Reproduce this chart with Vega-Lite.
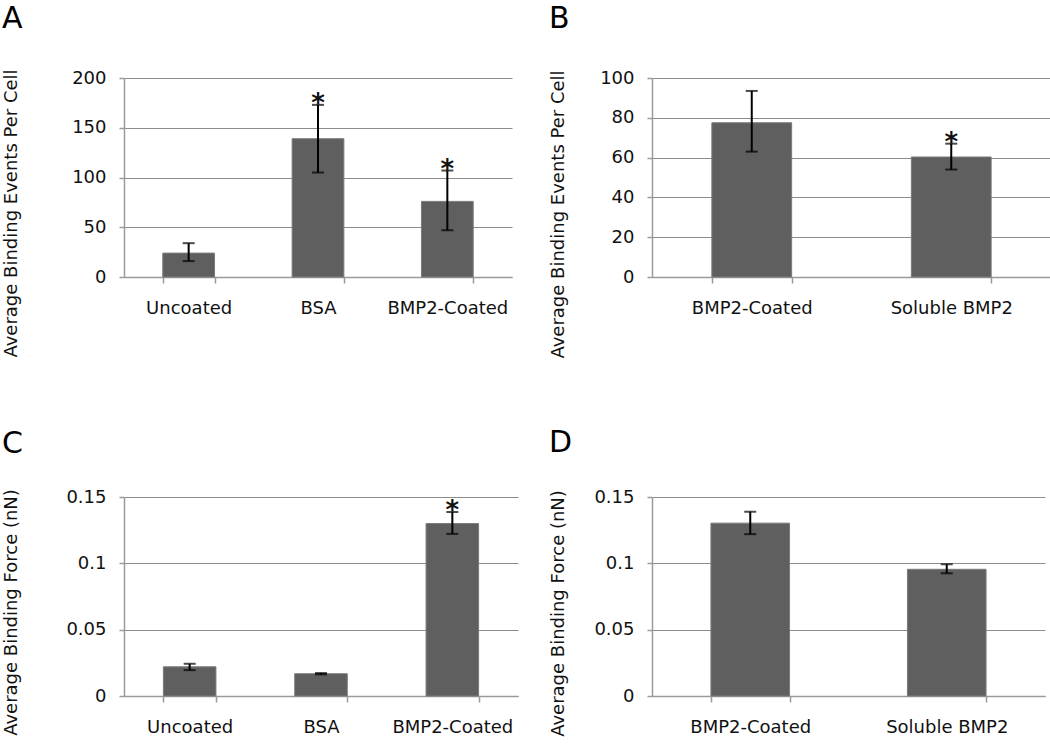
{
  "$schema": "https://vega.github.io/schema/vega-lite/v6.json",
  "background": "white",
  "padding": {"left": 1, "top": 3, "right": 0, "bottom": 0},
  "datasets": {
    "bars": [
      {"panel": "A", "cat": "Uncoated", "value": 24, "lo": 16, "hi": 34, "sig": ""},
      {"panel": "A", "cat": "BSA", "value": 139, "lo": 105, "hi": 173, "sig": "*"},
      {"panel": "A", "cat": "BMP2-Coated", "value": 76, "lo": 47, "hi": 107, "sig": "*"},
      {"panel": "B", "cat": "BMP2-Coated", "value": 77.5, "lo": 63, "hi": 93.5, "sig": ""},
      {"panel": "B", "cat": "Soluble BMP2", "value": 60.3, "lo": 54, "hi": 67, "sig": "*"},
      {"panel": "C", "cat": "Uncoated", "value": 0.022, "lo": 0.0195, "hi": 0.0243, "sig": ""},
      {"panel": "C", "cat": "BSA", "value": 0.0168, "lo": 0.0163, "hi": 0.0173, "sig": ""},
      {"panel": "C", "cat": "BMP2-Coated", "value": 0.130, "lo": 0.1222, "hi": 0.1387, "sig": "*"},
      {"panel": "D", "cat": "BMP2-Coated", "value": 0.1303, "lo": 0.122, "hi": 0.1389, "sig": ""},
      {"panel": "D", "cat": "Soluble BMP2", "value": 0.0955, "lo": 0.0925, "hi": 0.0993, "sig": ""}
    ]
  },
  "data": {"name": "bars"},
  "config": {
    "font": "DejaVu Sans",
    "view": {"stroke": null},
    "axis": {
      "labelFont": "DejaVu Sans",
      "titleFont": "DejaVu Sans",
      "labelFontSize": 18,
      "labelColor": "#111111",
      "titleFontSize": 18,
      "titleFontWeight": "normal",
      "titleColor": "#111111",
      "domainColor": "#9a9a9a",
      "domainWidth": 1.5,
      "tickColor": "#9a9a9a",
      "tickWidth": 1.5,
      "gridColor": "#8c8c8c",
      "gridWidth": 1.2
    },
    "axisX": {"grid": false, "tickSize": 6, "labelPadding": 16, "labelAngle": 0, "tickBand": "extent", "title": null},
    "axisY": {"grid": true, "tickSize": 5, "labelPadding": 13},
    "title": {"fontSize": 30, "fontWeight": "normal", "font": "DejaVu Sans", "color": "#000000", "anchor": "start", "frame": "bounds"}
  },
  "columns": 2,
  "align": {"row": "all", "column": "none"},
  "spacing": {"row": 69, "column": 30},
  "concat": [
    {
      "width": 388, "height": 199,
      "title": {"text": "A", "offset": 35},
      "transform": [{"filter": "datum.panel == 'A'"}],
      "encoding": {
        "x": {"field": "cat", "type": "nominal", "sort": null, "scale": {"paddingInner": 0.6, "paddingOuter": 0.3}}
      },
      "layer": [
        {"mark": {"type": "bar", "color": "#5f5f5f", "stroke": "#7a7a7a", "strokeWidth": 1},
         "encoding": {"y": {"field": "value", "type": "quantitative", "scale": {"domain": [0, 200]},
           "axis": {"values": [0, 50, 100, 150, 200], "title": "Average Binding Events Per Cell", "titleX": -104, "titleY": 135}}}},
        {"mark": {"type": "rule", "color": "black", "strokeWidth": 2}, "encoding": {"y": {"field": "lo", "type": "quantitative", "scale": {"domain": [0, 200]}, "axis": {"values": [0, 50, 100, 150, 200], "title": "Average Binding Events Per Cell", "titleX": -104, "titleY": 135}}, "y2": {"field": "hi"}}},
        {"mark": {"type": "tick", "color": "black", "size": 12, "thickness": 2}, "encoding": {"y": {"field": "lo", "type": "quantitative", "scale": {"domain": [0, 200]}, "axis": {"values": [0, 50, 100, 150, 200], "title": "Average Binding Events Per Cell", "titleX": -104, "titleY": 135}}}},
        {"mark": {"type": "tick", "color": "black", "size": 12, "thickness": 2}, "encoding": {"y": {"field": "hi", "type": "quantitative", "scale": {"domain": [0, 200]}, "axis": {"values": [0, 50, 100, 150, 200], "title": "Average Binding Events Per Cell", "titleX": -104, "titleY": 135}}}},
        {"mark": {"type": "text", "fontSize": 26, "fontWeight": "bold", "baseline": "alphabetic", "dy": 7, "color": "#111111"}, "encoding": {"y": {"field": "hi", "type": "quantitative", "scale": {"domain": [0, 200]}, "axis": {"values": [0, 50, 100, 150, 200], "title": "Average Binding Events Per Cell", "titleX": -104, "titleY": 135}}, "text": {"field": "sig"}}}
      ]
    },
    {
      "width": 399, "height": 199,
      "title": {"text": "B", "offset": 35},
      "transform": [{"filter": "datum.panel == 'B'"}],
      "encoding": {
        "x": {"field": "cat", "type": "nominal", "sort": null, "scale": {"paddingInner": 0.6, "paddingOuter": 0.3}}
      },
      "layer": [
        {"mark": {"type": "bar", "color": "#5f5f5f", "stroke": "#7a7a7a", "strokeWidth": 1},
         "encoding": {"y": {"field": "value", "type": "quantitative", "scale": {"domain": [0, 100]},
           "axis": {"values": [0, 20, 40, 60, 80, 100], "title": "Average Binding Events Per Cell", "titleX": -85, "titleY": 136}}}},
        {"mark": {"type": "rule", "color": "black", "strokeWidth": 2}, "encoding": {"y": {"field": "lo", "type": "quantitative", "scale": {"domain": [0, 100]}, "axis": {"values": [0, 20, 40, 60, 80, 100], "title": "Average Binding Events Per Cell", "titleX": -85, "titleY": 136}}, "y2": {"field": "hi"}}},
        {"mark": {"type": "tick", "color": "black", "size": 12, "thickness": 2}, "encoding": {"y": {"field": "lo", "type": "quantitative", "scale": {"domain": [0, 100]}, "axis": {"values": [0, 20, 40, 60, 80, 100], "title": "Average Binding Events Per Cell", "titleX": -85, "titleY": 136}}}},
        {"mark": {"type": "tick", "color": "black", "size": 12, "thickness": 2}, "encoding": {"y": {"field": "hi", "type": "quantitative", "scale": {"domain": [0, 100]}, "axis": {"values": [0, 20, 40, 60, 80, 100], "title": "Average Binding Events Per Cell", "titleX": -85, "titleY": 136}}}},
        {"mark": {"type": "text", "fontSize": 26, "fontWeight": "bold", "baseline": "alphabetic", "dy": 7, "color": "#111111"}, "encoding": {"y": {"field": "hi", "type": "quantitative", "scale": {"domain": [0, 100]}, "axis": {"values": [0, 20, 40, 60, 80, 100], "title": "Average Binding Events Per Cell", "titleX": -85, "titleY": 136}}, "text": {"field": "sig"}}}
      ]
    },
    {
      "width": 394, "height": 199,
      "title": {"text": "C", "offset": 29},
      "transform": [{"filter": "datum.panel == 'C'"}],
      "encoding": {
        "x": {"field": "cat", "type": "nominal", "sort": null, "scale": {"paddingInner": 0.6, "paddingOuter": 0.3}}
      },
      "layer": [
        {"mark": {"type": "bar", "color": "#5f5f5f", "stroke": "#7a7a7a", "strokeWidth": 1},
         "encoding": {"y": {"field": "value", "type": "quantitative", "scale": {"domain": [0, 0.15]},
           "axis": {"values": [0, 0.05, 0.1, 0.15], "format": ".2~f", "title": "Average Binding Force (nN)", "titleX": -104, "titleY": 115}}}},
        {"mark": {"type": "rule", "color": "black", "strokeWidth": 2}, "encoding": {"y": {"field": "lo", "type": "quantitative", "scale": {"domain": [0, 0.15]}, "axis": {"values": [0, 0.05, 0.1, 0.15], "format": ".2~f", "title": "Average Binding Force (nN)", "titleX": -104, "titleY": 115}}, "y2": {"field": "hi"}}},
        {"mark": {"type": "tick", "color": "black", "size": 12, "thickness": 2}, "encoding": {"y": {"field": "lo", "type": "quantitative", "scale": {"domain": [0, 0.15]}, "axis": {"values": [0, 0.05, 0.1, 0.15], "format": ".2~f", "title": "Average Binding Force (nN)", "titleX": -104, "titleY": 115}}}},
        {"mark": {"type": "tick", "color": "black", "size": 12, "thickness": 2}, "encoding": {"y": {"field": "hi", "type": "quantitative", "scale": {"domain": [0, 0.15]}, "axis": {"values": [0, 0.05, 0.1, 0.15], "format": ".2~f", "title": "Average Binding Force (nN)", "titleX": -104, "titleY": 115}}}},
        {"mark": {"type": "text", "fontSize": 26, "fontWeight": "bold", "baseline": "alphabetic", "dy": 7, "color": "#111111"}, "encoding": {"y": {"field": "hi", "type": "quantitative", "scale": {"domain": [0, 0.15]}, "axis": {"values": [0, 0.05, 0.1, 0.15], "format": ".2~f", "title": "Average Binding Force (nN)", "titleX": -104, "titleY": 115}}, "text": {"field": "sig"}}}
      ]
    },
    {
      "width": 393, "height": 199,
      "title": {"text": "D", "offset": 30},
      "transform": [{"filter": "datum.panel == 'D'"}],
      "encoding": {
        "x": {"field": "cat", "type": "nominal", "sort": null, "scale": {"paddingInner": 0.6, "paddingOuter": 0.3}}
      },
      "layer": [
        {"mark": {"type": "bar", "color": "#5f5f5f", "stroke": "#7a7a7a", "strokeWidth": 1},
         "encoding": {"y": {"field": "value", "type": "quantitative", "scale": {"domain": [0, 0.15]},
           "axis": {"values": [0, 0.05, 0.1, 0.15], "format": ".2~f", "title": "Average Binding Force (nN)", "titleX": -85, "titleY": 116}}}},
        {"mark": {"type": "rule", "color": "black", "strokeWidth": 2}, "encoding": {"y": {"field": "lo", "type": "quantitative", "scale": {"domain": [0, 0.15]}, "axis": {"values": [0, 0.05, 0.1, 0.15], "format": ".2~f", "title": "Average Binding Force (nN)", "titleX": -85, "titleY": 116}}, "y2": {"field": "hi"}}},
        {"mark": {"type": "tick", "color": "black", "size": 12, "thickness": 2}, "encoding": {"y": {"field": "lo", "type": "quantitative", "scale": {"domain": [0, 0.15]}, "axis": {"values": [0, 0.05, 0.1, 0.15], "format": ".2~f", "title": "Average Binding Force (nN)", "titleX": -85, "titleY": 116}}}},
        {"mark": {"type": "tick", "color": "black", "size": 12, "thickness": 2}, "encoding": {"y": {"field": "hi", "type": "quantitative", "scale": {"domain": [0, 0.15]}, "axis": {"values": [0, 0.05, 0.1, 0.15], "format": ".2~f", "title": "Average Binding Force (nN)", "titleX": -85, "titleY": 116}}}}
      ]
    }
  ]
}
